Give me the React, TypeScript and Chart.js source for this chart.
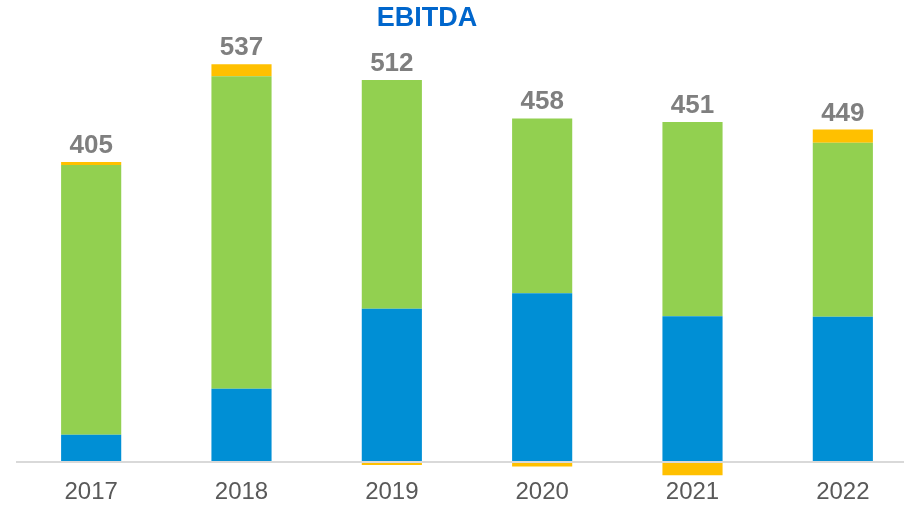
import React, { useEffect, useRef } from "react";
import { Chart, registerables } from "chart.js";

Chart.register(...registerables);

const categories = ["2017", "2018", "2019", "2020", "2021", "2022"];
const blueValues = [37, 99, 207, 228, 197, 196];
const greenValues = [364, 422, 309, 236, 262, 235];
const yellowValues = [4, 16, -4, -6, -18, 18];
const totalLabels = ["405", "537", "512", "458", "451", "449"];
const titleText = "EBITDA";

const FONT = "Arial, 'Liberation Sans', sans-serif";

export default function App() {
  const ref = useRef<HTMLCanvasElement | null>(null);

  useEffect(() => {
    if (!ref.current) return;

    const titlePlugin = {
      id: "customTitle",
      afterDraw(chart: any) {
        const ctx = chart.ctx;
        ctx.save();
        ctx.font = `bold 27px ${FONT}`;
        ctx.fillStyle = "#0066CC";
        ctx.textAlign = "center";
        ctx.textBaseline = "middle";
        ctx.fillText(titleText, 427, 19);
        ctx.restore();
      },
    };

    const zeroLinePlugin = {
      id: "zeroLine",
      afterDatasetsDraw(chart: any) {
        const { ctx, chartArea, scales } = chart;
        const y = scales.y.getPixelForValue(0);
        ctx.save();
        ctx.strokeStyle = "#D9D9D9";
        ctx.lineWidth = 2;
        ctx.beginPath();
        ctx.moveTo(chartArea.left, y);
        ctx.lineTo(chartArea.right, y);
        ctx.stroke();
        ctx.restore();
      },
    };

    const totalsPlugin = {
      id: "totals",
      afterDatasetsDraw(chart: any) {
        const { ctx, scales } = chart;
        ctx.save();
        ctx.font = `bold 26px ${FONT}`;
        ctx.fillStyle = "#7F7F7F";
        ctx.textAlign = "center";
        ctx.textBaseline = "alphabetic";
        categories.forEach((_, i) => {
          const pos =
            Math.max(0, blueValues[i]) +
            Math.max(0, greenValues[i]) +
            Math.max(0, yellowValues[i]);
          const x = scales.x.getPixelForValue(i);
          const y = scales.y.getPixelForValue(pos);
          ctx.fillText(totalLabels[i], x, y - 9);
        });
        ctx.restore();
      },
    };

    const chart = new Chart(ref.current, {
      type: "bar",
      data: {
        labels: categories,
        datasets: [
          {
            label: "A",
            data: blueValues,
            backgroundColor: "#008FD5",
            barPercentage: 0.5,
            categoryPercentage: 0.8,
          },
          {
            label: "B",
            data: greenValues,
            backgroundColor: "#92D050",
            barPercentage: 0.5,
            categoryPercentage: 0.8,
          },
          {
            label: "C",
            data: yellowValues,
            backgroundColor: "#FFC000",
            barPercentage: 0.5,
            categoryPercentage: 0.8,
          },
        ],
      },
      options: {
        responsive: false,
        animation: false,
        layout: { padding: { left: 16, right: 0, top: 41, bottom: 1 } },
        plugins: {
          legend: { display: false },
          title: { display: false },
          tooltip: { enabled: false },
        },
        scales: {
          x: {
            stacked: true,
            grid: { display: false, drawTicks: false },
            border: { display: false },
            ticks: {
              padding: 0,
              color: "#595959",
              font: { family: FONT, size: 24, lineHeight: 1.15 },
            },
          },
          y: {
            stacked: true,
            display: false,
            min: -22.1,
            max: 568.5,
          },
        },
      },
      plugins: [titlePlugin, zeroLinePlugin, totalsPlugin],
    });

    return () => chart.destroy();
  }, []);

  return (
    <div
      style={{
        position: "fixed",
        left: 0,
        top: 0,
        width: 904,
        height: 507,
        overflow: "hidden",
        background: "#ffffff",
      }}
    >
      <canvas ref={ref} width={918} height={507} />
    </div>
  );
}
